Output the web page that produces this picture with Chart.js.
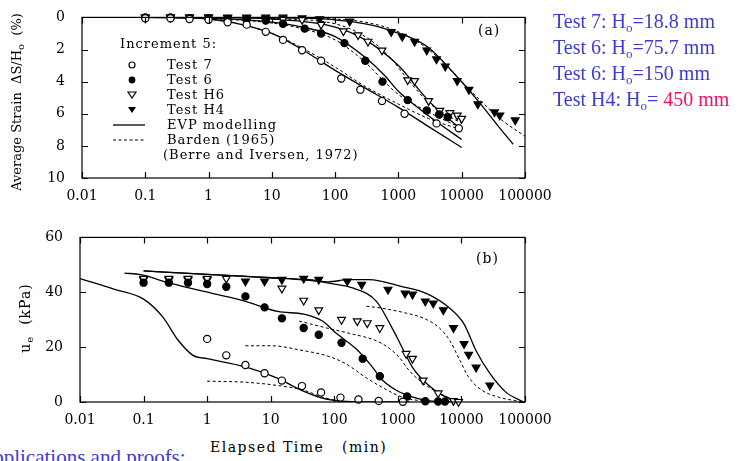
<!DOCTYPE html>
<html>
<head>
<meta charset="utf-8">
<script src="https://cdn.jsdelivr.net/npm/chart.js@4.4.1/dist/chart.umd.min.js"></script>
<style>
  body { margin: 0; width: 743px; height: 461px; overflow: hidden; background: #fff; position: relative; }
  .box { position: absolute; left: 0; width: 560px; }
  .txt { position: absolute; font-family: 'DejaVu Serif', serif; font-size: 13px; letter-spacing: 1px; color: #000; white-space: nowrap; line-height: 15px; }
  .note { position: absolute; left: 553px; font-family: 'Liberation Serif', serif; font-size: 20px; color: #3c3cd0; white-space: nowrap; line-height: 22px; }
  .note sub { font-size: 13px; vertical-align: -4px; line-height: 0; }
  .ytitle { position: absolute; font-family: 'DejaVu Serif', serif; font-size: 13px; white-space: nowrap; transform: translate(-50%, -50%) rotate(-90deg); }
  .ytitle sub { font-size: 10px; vertical-align: -3px; line-height: 0; }
</style>
</head>
<body>
<div class="box" style="top:0;height:200px"><canvas id="strain"></canvas></div>
<div class="box" style="top:220px;height:205px"><canvas id="pore"></canvas></div>

<div class="ytitle" style="left:16px;top:102px">Average Strain &nbsp;ΔS/H<sub>o</sub> &nbsp;(%)</div>
<div class="ytitle" style="left:25px;top:318px;font-size:14px;letter-spacing:1px">u<sub>e</sub> &nbsp;(kPa)</div>
<div class="txt" style="left:210px;top:440px;font-size:14px;letter-spacing:1.5px">Elapsed Time &nbsp;&nbsp;(min)</div>

<div class="txt" style="left:120px;top:36px">Increment 5:</div>
<div class="txt" style="left:167px;top:57px">Test 7</div>
<div class="txt" style="left:167px;top:72px">Test 6</div>
<div class="txt" style="left:167px;top:87px">Test H6</div>
<div class="txt" style="left:167px;top:102px">Test H4</div>
<div class="txt" style="left:167px;top:117px">EVP modelling</div>
<div class="txt" style="left:167px;top:132px">Barden (1965)</div>
<div class="txt" style="left:163px;top:147px">(Berre and Iversen, 1972)</div>
<div class="txt" style="left:478px;top:23px;font-size:14px">(a)</div>
<div class="txt" style="left:476px;top:251px;font-size:14px">(b)</div>

<div class="note" style="top:10px">Test 7: H<sub>o</sub>=18.8 mm</div>
<div class="note" style="top:36px">Test 6: H<sub>o</sub>=75.7 mm</div>
<div class="note" style="top:62px">Test 6: H<sub>o</sub>=150 mm</div>
<div class="note" style="top:88px">Test H4: H<sub>o</sub>= <span style="color:#ee1166">450 mm</span></div>

<div class="note" style="left:-22px;top:446px;font-size:21px">Applications and proofs:</div>

<script>
/* global Chart */

const decades = [0.01, 0.1, 1, 10, 100, 1000, 10000, 100000];

// (a) average strain (%) against time (min)
const strainT7 = [[0.1, 0.05], [0.25, 0.05], [0.5, 0.1], [1, 0.15], [2, 0.3], [4, 0.45], [8, 0.9], [15, 1.4], [30, 2.05], [60, 2.7], [125, 3.8], [250, 4.5], [550, 5.2], [1250, 6.0], [4000, 6.6], [9000, 6.9]];
const strainT6 = [[0.1, 0], [0.25, 0], [0.5, 0.05], [1, 0.05], [2, 0.1], [4, 0.15], [8, 0.2], [15, 0.4], [33, 0.7], [60, 1.0], [140, 1.6], [300, 2.7], [560, 4.0], [1400, 5.15], [2800, 5.8], [4400, 6.05], [6000, 6.2]];
const strainH6 = [[0.1, 0], [0.25, 0], [0.5, 0], [1, 0], [2, 0.05], [4, 0.05], [8, 0.1], [15, 0.1], [30, 0.15], [60, 0.45], [135, 0.85], [230, 1.1], [330, 1.5], [550, 2.05], [1400, 3.9], [1800, 3.95], [3000, 5.2], [4500, 5.8], [6500, 5.95], [8500, 6.1], [10000, 6.3]];
const strainH4 = [[0.1, 0], [0.25, 0], [0.5, 0], [1, 0], [2, 0], [4, 0], [8, 0], [15, 0], [30, 0.05], [57, 0.1], [170, 0.25], [770, 0.9], [1150, 1.2], [1800, 1.5], [2800, 2.05], [4000, 2.6], [5500, 3.05], [8500, 3.95], [13000, 4.5], [18000, 5.4], [33000, 5.9], [40000, 6.1], [70000, 6.4]];

const strainEvpT7 = [[0.1, 0], [1, 0.1], [3, 0.4], [10, 1.0], [30, 2.0], [100, 3.3], [300, 4.4], [1000, 5.6], [3000, 6.8], [10000, 8.1]];
const strainEvpT6 = [[0.1, 0], [1, 0.05], [10, 0.3], [30, 0.6], [100, 1.2], [300, 2.5], [600, 3.6], [1000, 4.6], [2000, 5.6], [4000, 6.5], [10000, 7.6]];
const strainEvpH6 = [[1, 0], [10, 0.1], [100, 0.6], [300, 1.4], [1000, 3.0], [3000, 5.2], [10000, 7.0]];
const strainEvpH4 = [[1, 0], [30, 0.05], [100, 0.15], [300, 0.4], [800, 0.85], [2800, 1.8], [9400, 3.9], [20000, 5.4], [40000, 6.9], [65000, 7.9]];

const strainBarT7 = [[1, 0.1], [3, 0.4], [10, 1.0], [30, 1.9], [100, 3.1], [300, 4.3], [1000, 5.4], [3000, 6.3], [10000, 7.0]];
const strainBarT6 = [[1, 0.05], [10, 0.35], [30, 0.7], [100, 1.4], [300, 2.8], [600, 4.0], [1000, 4.8], [3000, 5.9], [10000, 6.9]];
const strainBarH6 = [[10, 0.05], [100, 0.4], [300, 1.2], [700, 2.4], [1500, 4.0], [3000, 5.3], [6000, 6.1], [10000, 6.6]];
const strainBarH4 = [[10, 0], [100, 0.1], [300, 0.3], [1000, 0.9], [3000, 2.0], [10000, 4.0], [20000, 5.2], [40000, 6.3], [100000, 7.4]];

// (b) excess pore pressure (kPa) against time (min)
const poreT7 = [[1, 23], [2, 17], [4, 13.5], [8, 10.5], [15, 7.8], [31, 5.8], [62, 3.5], [125, 1.6], [240, 0.9], [500, 0.4], [1200, 0.1]];
const poreT6 = [[0.1, 43.5], [0.25, 43.5], [0.5, 43.5], [1, 43], [2, 42], [4, 38.5], [8, 34.5], [15, 30.5], [33, 27], [57, 24.5], [130, 21.6], [280, 15.8], [520, 9.4], [1400, 2], [2700, 0.3], [4300, 0.2], [5500, 0.2]];
const poreH6 = [[0.1, 45], [0.25, 45], [0.5, 45], [1, 45], [2, 45], [15, 41.4], [33, 37], [57, 33.5], [130, 30], [230, 29.5], [330, 28.8], [520, 27], [1350, 17.6], [1700, 15.8], [2500, 7.9], [4300, 3.2], [7500, 0.4], [9000, 0.1]];
const poreH4 = [[0.1, 44.5], [0.25, 44.5], [0.5, 44.5], [1, 44.5], [4, 44], [8, 44], [15, 44.6], [33, 45], [57, 44.6], [160, 44], [270, 42.8], [700, 41], [1300, 39.6], [1700, 39.2], [2700, 36.7], [3600, 36], [5200, 33.5], [7500, 27], [11000, 21.2], [13000, 17.3], [17000, 12.6], [28000, 6.1]];

const poreEvpT7 = [[0.01, 45], [0.036, 41], [0.1, 37.5], [0.2, 31], [0.35, 22.5], [0.6, 17], [1, 15.8], [4, 12.8], [13, 8.6], [30, 4.3], [65, 1.4], [130, 0.3], [300, 0], [1500, 0]];
const poreEvpT6 = [[0.05, 47], [0.09, 46.4], [0.27, 43.2], [1.2, 39.6], [4, 36.7], [13, 33], [33, 32], [65, 29.5], [105, 25.2], [220, 19.4], [360, 14], [570, 8], [940, 4.3], [1400, 2.5], [3000, 0.5], [8000, 0]];
const poreEvpH6 = [[0.1, 47.8], [1, 46.5], [10, 45.3], [40, 44.3], [100, 43], [200, 41.5], [460, 36.7], [810, 27], [1170, 19.8], [1700, 12.6], [2800, 6.8], [5000, 2.5], [9400, 0]];
const poreEvpH4 = [[0.1, 47.8], [1, 46.5], [10, 45.3], [40, 44.6], [80, 43.8], [170, 44.6], [350, 44.6], [1200, 42], [2800, 39.6], [6700, 34], [11000, 28.4], [17000, 18.7], [28000, 10.4], [50000, 3.6], [95000, 0]];

const poreBarT7 = [[1, 7.6], [4, 7.2], [13, 6], [33, 4.3], [65, 1.8], [130, 0]];
const poreBarT6 = [[4, 20.5], [10, 20.5], [33, 18.7], [75, 16.9], [150, 14], [310, 9], [560, 5.4], [1170, 1.8], [3000, 0]];
const poreBarH6 = [[28, 29.5], [75, 27], [190, 24.8], [460, 22.3], [750, 19.4], [1060, 16.2], [1500, 11.5], [2500, 6.8], [4500, 3.2], [8000, 0.7], [10000, 0.3]];
const poreBarH4 = [[320, 34.9], [560, 34.2], [1350, 32.4], [2500, 30.6], [4500, 27], [6600, 22.3], [9500, 15.1], [13000, 9], [21000, 4.3], [38000, 1.8], [70000, 0.5], [100000, 0]];

const tickFont = { family: 'DejaVu Serif', size: 14 };

function toXY(pairs) {
  return pairs.map((p) => ({ x: p[0], y: p[1] }));
}

function marks(pairs, filled, triangle) {
  return {
    data: toXY(pairs),
    showLine: false,
    pointStyle: triangle ? 'triangle' : 'circle',
    rotation: triangle ? 180 : 0,
    pointRadius: triangle ? 4.5 : 3.6,
    pointBackgroundColor: filled ? '#000' : '#fff',
    pointBorderColor: '#000',
    pointBorderWidth: 1.2,
    clip: false,
    order: 0,
  };
}

function curve(pairs, dashed) {
  return {
    data: toXY(pairs),
    showLine: true,
    pointRadius: 0,
    borderColor: '#000',
    borderWidth: dashed ? 1 : 1.3,
    borderDash: dashed ? [3, 2.5] : [],
    cubicInterpolationMode: 'monotone',
    order: 1,
  };
}

// box round the plot with inward ticks, as in the printed figure
const frame = {
  id: 'frame',
  afterDraw(chart) {
    const { ctx, chartArea: a, scales } = chart;
    ctx.save();
    ctx.strokeStyle = '#000';
    ctx.lineWidth = 1.2;
    ctx.strokeRect(a.left, a.top, a.width, a.height);
    ctx.beginPath();
    decades.forEach((v) => {
      const px = Math.round(scales.x.getPixelForValue(v)) + 0.5;
      ctx.moveTo(px, a.bottom); ctx.lineTo(px, a.bottom - 6);
      ctx.moveTo(px, a.top); ctx.lineTo(px, a.top + 6);
    });
    scales.y.ticks.forEach((t) => {
      const py = Math.round(scales.y.getPixelForValue(t.value)) + 0.5;
      ctx.moveTo(a.left, py); ctx.lineTo(a.left + 6, py);
      ctx.moveTo(a.right, py); ctx.lineTo(a.right - 6, py);
    });
    ctx.stroke();
    ctx.restore();
  },
};

// legend symbols of panel (a)
const legendMarks = {
  id: 'legendMarks',
  afterDraw(chart) {
    const { ctx } = chart;
    ctx.save();
    ctx.strokeStyle = '#000';
    ctx.lineWidth = 1.2;
    ctx.beginPath(); ctx.arc(132, 65, 3, 0, Math.PI * 2); ctx.stroke();
    ctx.beginPath(); ctx.arc(132, 80, 3.4, 0, Math.PI * 2); ctx.fillStyle = '#000'; ctx.fill();
    [[95, false], [110, true]].forEach(([cy, fill]) => {
      ctx.beginPath();
      ctx.moveTo(128, cy - 3); ctx.lineTo(136, cy - 3); ctx.lineTo(132, cy + 3); ctx.closePath();
      if (fill) ctx.fill(); else ctx.stroke();
    });
    ctx.lineWidth = 1.3;
    ctx.beginPath(); ctx.moveTo(113, 125); ctx.lineTo(145, 125); ctx.stroke();
    ctx.lineWidth = 1;
    ctx.setLineDash([3, 2.5]);
    ctx.beginPath(); ctx.moveTo(113, 140); ctx.lineTo(145, 140); ctx.stroke();
    ctx.restore();
  },
};

function options(yMin, yMax, step, reverse, yWidth, xHeight, padTop) {
  return {
    responsive: true,
    maintainAspectRatio: false,
    animation: false,
    layout: { padding: { top: padTop, right: 35, left: 0, bottom: 0 } },
    plugins: { legend: { display: false }, tooltip: { enabled: false } },
    scales: {
      x: {
        type: 'logarithmic',
        min: 0.01,
        max: 100000,
        grid: { display: false },
        border: { display: false },
        afterBuildTicks: (s) => { s.ticks = decades.map((v) => ({ value: v })); },
        afterFit: (s) => { s.height = xHeight; },
        ticks: {
          autoSkip: false, maxRotation: 0, padding: 2, color: '#000', font: tickFont,
          callback: (v) => String(v),
        },
      },
      y: {
        min: yMin,
        max: yMax,
        reverse,
        grid: { display: false },
        border: { display: false },
        afterFit: (s) => { s.width = yWidth; },
        ticks: { stepSize: step, padding: 9, color: '#000', font: tickFont },
      },
    },
  };
}

new Chart(document.getElementById('strain'), {
  type: 'scatter',
  data: {
    datasets: [
      marks(strainT7, false, false),
      marks(strainT6, true, false),
      marks(strainH6, false, true),
      marks(strainH4, true, true),
      curve(strainEvpT7, false), curve(strainEvpT6, false), curve(strainEvpH6, false), curve(strainEvpH4, false),
      curve(strainBarT7, true), curve(strainBarT6, true), curve(strainBarH6, true), curve(strainBarH4, true),
    ],
  },
  options: options(0, 10, 2, true, 82, 22, 13),
  plugins: [frame, legendMarks],
});

new Chart(document.getElementById('pore'), {
  type: 'scatter',
  data: {
    datasets: [
      marks(poreT7, false, false),
      marks(poreT6, true, false),
      marks(poreH6, false, true),
      marks(poreH4, true, true),
      curve(poreEvpT7, false), curve(poreEvpT6, false), curve(poreEvpH6, false), curve(poreEvpH4, false),
      curve(poreBarT7, true), curve(poreBarT6, true), curve(poreBarH6, true), curve(poreBarH4, true),
    ],
  },
  options: options(0, 60, 20, false, 80, 23, 15),
  plugins: [frame],
});
</script>
</body>
</html>
